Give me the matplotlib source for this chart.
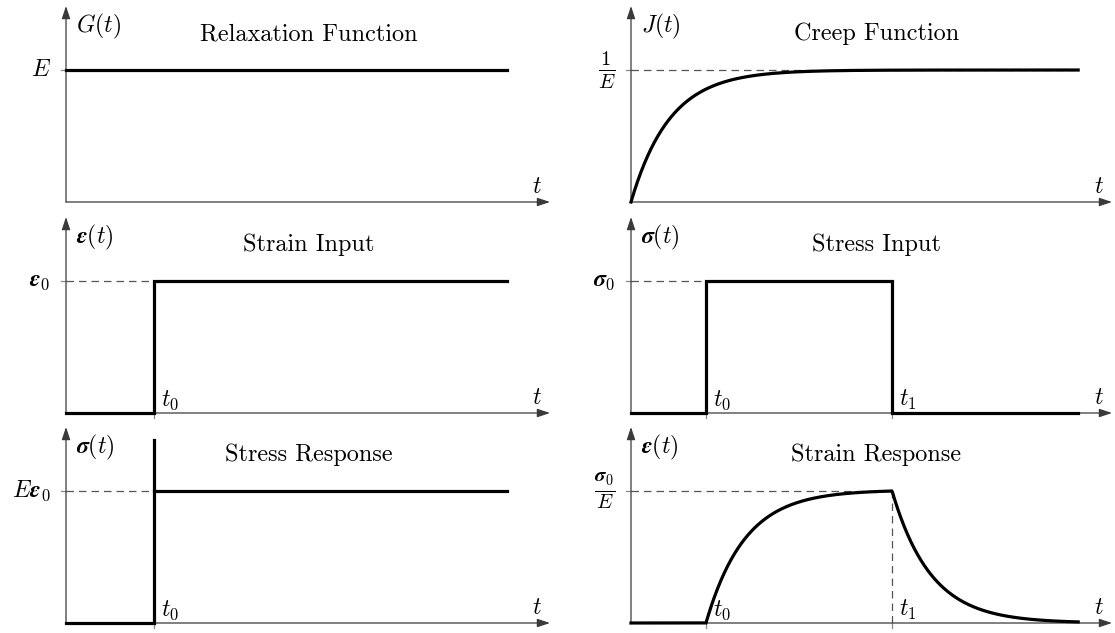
import numpy as np
import matplotlib
matplotlib.use("Agg")
import matplotlib.pyplot as plt
from matplotlib import rcParams

rcParams['font.family'] = 'serif'
rcParams['font.serif'] = ['cmr10']
rcParams['mathtext.fontset'] = 'cm'
rcParams['axes.formatter.use_mathtext'] = True
rcParams['font.size'] = 17

# time markers (same units in every panel)
t0_left = 2.0
t_end_left = 10.0
t0_right = 1.7
t1_right = 5.92
t_end_right = 10.14
tau = 0.88          # creep time constant
spike = 1.39        # height drawn for the stress spike at t0

titles = [["Relaxation Function", "Creep Function"],
          ["Strain Input", "Stress Input"],
          ["Stress Response", "Strain Response"]]
ylabels = [[r"$G(t)$", r"$J(t)$"],
           [r"$\boldsymbol{\epsilon}(t)$", r"$\boldsymbol{\sigma}(t)$"],
           [r"$\boldsymbol{\sigma}(t)$", r"$\boldsymbol{\epsilon}(t)$"]]
levels = [[r"$E$", r"$\frac{1}{E}$"],
          [r"$\boldsymbol{\epsilon}_0$", r"$\boldsymbol{\sigma}_0$"],
          [r"$E\boldsymbol{\epsilon}_0$", r"$\frac{\boldsymbol{\sigma}_0}{E}$"]]
level_sizes = [[17, 21], [17, 17], [17, 21]]

W, H = 1115, 633
fig = plt.figure(figsize=(W / 100, H / 100), dpi=100)

px = 44.1                     # pixels per time unit
ytop = 1.485                  # arrow tip height in level units
rows_y = [202, 413, 623]      # pixel row of each x axis
cols_x = [66, 631]
cols_w = [484, 481]
panel_h = 196

axes = []
for r in range(3):
    row = []
    for c in range(2):
        left = cols_x[c] / W
        bottom = (H - rows_y[r]) / H
        ax = fig.add_axes([left, bottom, cols_w[c] / W, panel_h / H])
        ax.set_xlim(0, cols_w[c] / px)
        ax.set_ylim(0, ytop)
        ax.axis('off')
        xmax = cols_w[c] / px
        arrow = dict(arrowstyle='-|>,head_length=0.45,head_width=0.15',
                     color='#3a3a3a', lw=0.9, shrinkA=0, shrinkB=0)
        ax.annotate('', xy=(xmax, 0), xytext=(0, 0), arrowprops=arrow,
                    annotation_clip=False)
        ax.annotate('', xy=(0, ytop), xytext=(0, 0), arrowprops=arrow,
                    annotation_clip=False)
        ax.text(xmax - 13 / px, 15 / 132, r"$t$", ha='center', va='center')
        ax.text(10 / px, ytop - 20 / 132, ylabels[r][c], ha='left', va='center')
        ax.text(5.5 if c == 0 else 5.56, ytop - 28 / 132, titles[r][c],
                ha='center', va='center', fontsize=17.5)
        ax.annotate(levels[r][c], xy=(0, 1), xytext=(-11, 0),
                    textcoords='offset points', ha='right', va='center',
                    fontsize=level_sizes[r][c])
        # small tick at the level on the y axis
        ax.plot([-5 / px, 0], [1, 1], color='#888888', lw=0.9, clip_on=False)
        row.append(ax)
    axes.append(row)

thick = dict(color='black', lw=2.3, solid_joinstyle='miter', clip_on=False, zorder=3)
dash = dict(color='#555555', lw=0.9, ls=(0, (6, 4)), clip_on=False, zorder=2)


def xtick(ax, t, name):
    ax.plot([t, t], [-5 / 132, 0], color='#888888', lw=0.9, clip_on=False)
    ax.annotate(name, xy=(t, 0), xytext=(5, 1), textcoords='offset points',
                ha='left', va='bottom')


# relaxation function
ax = axes[0][0]
ax.plot([0, t_end_left], [1, 1], **thick)

# creep function
ax = axes[0][1]
t = np.linspace(0, t_end_right, 400)
ax.plot([0, t_end_right], [1, 1], **dash)
ax.plot(t, 1 - np.exp(-t / tau), **thick)

# strain input
ax = axes[1][0]
ax.plot([0, t0_left], [1, 1], **dash)
ax.plot([0, t0_left, t0_left, t_end_left], [0, 0, 1, 1], **thick)
xtick(ax, t0_left, r"$t_0$")

# stress input
ax = axes[1][1]
ax.plot([0, t0_right], [1, 1], **dash)
ax.plot([0, t0_right, t0_right, t1_right, t1_right, t_end_right],
        [0, 0, 1, 1, 0, 0], **thick)
xtick(ax, t0_right, r"$t_0$")
xtick(ax, t1_right, r"$t_1$")

# stress response
ax = axes[2][0]
ax.plot([0, t0_left], [1, 1], **dash)
ax.plot([0, t0_left, t0_left], [0, 0, spike], **thick)
ax.plot([t0_left, t_end_left], [1, 1], **thick)
xtick(ax, t0_left, r"$t_0$")

# strain response
ax = axes[2][1]
t = np.linspace(0, t_end_right, 800)
rise = np.where(t > t0_right, 1 - np.exp(-(t - t0_right) / tau), 0)
fall = np.where(t > t1_right, 1 - np.exp(-(t - t1_right) / tau), 0)
peak = 1 - np.exp(-(t1_right - t0_right) / tau)
eps = (rise - fall) / peak
ax.plot([0, t1_right], [1, 1], **dash)
ax.plot([t1_right, t1_right], [0, 1], **dash)
ax.plot(t, eps, **thick)
xtick(ax, t0_right, r"$t_0$")
xtick(ax, t1_right, r"$t_1$")

fig.savefig("out.png", dpi=100)
